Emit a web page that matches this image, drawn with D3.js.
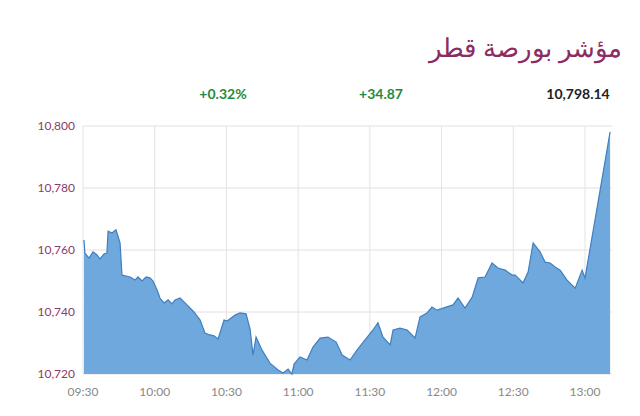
<!DOCTYPE html><html><head><meta charset="utf-8"><script src="https://cdn.jsdelivr.net/npm/d3@7"></script>
<style>body{margin:0;background:#fff;font-family:Lato,"Noto Sans",sans-serif}</style></head><body><svg id="c" width="640" height="416"></svg>
<script>
const title="مؤشر بورصة قطر";
const changePct="+0.32%", changeAbs="+34.87", lastValue="10,798.14";
const minutes=[0.4,0.8,2.5,4.2,5.9,7.1,8.8,10.0,10.5,12.1,13.8,15.5,16.3,19.7,21.8,23.0,24.7,26.4,28.0,29.3,31.0,32.2,33.9,35.6,37.2,38.5,40.6,43.1,46.4,49.0,51.0,53.1,54.8,56.5,59.0,60.3,63.6,65.7,68.2,69.9,71.1,72.4,74.9,78.2,81.6,83.7,85.8,87.4,88.3,90.8,93.7,96.2,99.2,102.5,105.9,108.4,111.7,114.6,121.3,123.4,125.5,128.5,129.7,132.6,135.6,138.9,141.0,143.9,146.0,148.1,154.8,156.9,159.8,162.8,165.3,168.2,171.1,173.6,176.6,179.5,180.8,184.1,186.2,188.3,191.2,193.3,195.4,197.5,199.6,202.5,205.9,208.8,210.0,220.5];
const values=[10763.2,10759.0,10757.4,10759.4,10758.4,10757.1,10758.7,10759.0,10766.1,10765.5,10766.5,10762.3,10751.9,10751.3,10750.3,10751.3,10750.0,10751.3,10751.0,10750.0,10747.1,10744.5,10742.9,10743.9,10742.6,10743.9,10744.5,10742.6,10740.0,10737.4,10733.2,10732.6,10732.3,10731.3,10737.4,10737.1,10739.0,10739.7,10739.4,10734.5,10726.1,10731.9,10727.7,10723.5,10721.3,10720.3,10721.6,10720.0,10723.2,10725.5,10724.5,10728.7,10731.6,10731.9,10730.3,10726.1,10724.5,10727.7,10734.2,10736.5,10731.9,10729.4,10734.2,10734.8,10734.2,10731.6,10738.4,10739.7,10741.6,10740.6,10742.3,10744.5,10741.3,10744.8,10751.0,10751.3,10755.8,10754.2,10753.5,10751.9,10751.9,10749.4,10752.9,10762.3,10759.4,10756.1,10755.8,10754.5,10753.5,10750.3,10747.7,10753.5,10750.9,10798.1];
const yTicks=[10720,10740,10760,10780,10800];
const xTickLabels=["09:30","10:00","10:30","11:00","11:30","12:00","12:30","13:00"];
const xTickMinutes=[0,30,60,90,120,150,180,210];

const svg=d3.select("#c");
const x=d3.scaleLinear().domain([0,210]).range([83,585]);
const y=d3.scaleLinear().domain([10720,10800]).range([374,126]);
const data=minutes.map((m,i)=>({m,v:values[i]}));

svg.append("text").attr("x",622).attr("y",57).attr("text-anchor","end").attr("font-size",26).attr("fill","#8b2d63").attr("font-family","'Noto Sans',sans-serif").text(title);
svg.append("text").attr("x",223).attr("y",99).attr("text-anchor","middle").attr("font-size",14).attr("font-weight","bold").attr("fill","#1f8a3c").text(changePct);
svg.append("text").attr("x",381).attr("y",99).attr("text-anchor","middle").attr("font-size",14).attr("font-weight","bold").attr("fill","#1f8a3c").text(changeAbs);
svg.append("text").attr("x",578).attr("y",99).attr("text-anchor","middle").attr("font-size",14).attr("font-weight","bold").attr("fill","#222").text(lastValue);

const g=svg.append("g");
g.selectAll(".hg").data(yTicks).join("line").attr("x1",83).attr("x2",612).attr("y1",d=>y(d)).attr("y2",d=>y(d)).attr("stroke","#e6dde2");
g.selectAll(".vg").data(xTickMinutes).join("line").attr("x1",d=>x(d)).attr("x2",d=>x(d)).attr("y1",126).attr("y2",374).attr("stroke","#e3e3e3");
g.selectAll(".yl").data(yTicks).join("text").attr("x",75).attr("y",d=>y(d)+4).attr("text-anchor","end").attr("font-size",12).attr("fill","#8b3a6b").text(d3.format(",")) ;
g.selectAll(".xl").data(xTickLabels).join("text").attr("x",(d,i)=>x(xTickMinutes[i])).attr("y",396).attr("text-anchor","middle").attr("font-size",12).attr("fill","#888").text(d=>d);

const area=d3.area().x(d=>x(d.m)).y0(374).y1(d=>y(d.v));
const line=d3.line().x(d=>x(d.m)).y(d=>y(d.v));
g.append("path").datum(data).attr("d",area).attr("fill","#6fa8dc");
g.append("path").datum(data).attr("d",line).attr("fill","none").attr("stroke","#3f7fc0").attr("stroke-width",1.2);
</script></body></html>
